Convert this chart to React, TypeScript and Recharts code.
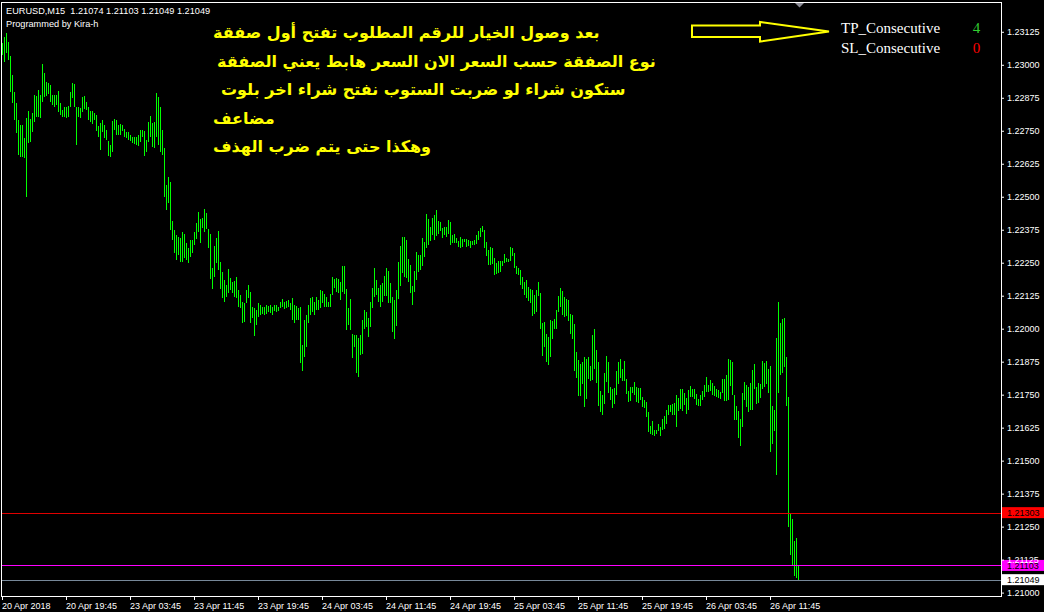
import { Bar, ComposedChart, ReferenceLine, XAxis, YAxis } from "recharts";

// M15 bars (high / low per bar, oldest first)
const highs = [
  1.23084, 1.23107, 1.23122, 1.23088, 1.23035, 1.22963, 1.22899, 1.22857, 1.22793, 1.22774,
  1.22774, 1.22724, 1.228, 1.22827, 1.22796, 1.22819, 1.22887, 1.22884, 1.22906, 1.22887,
  1.23005, 1.22971, 1.22937, 1.22933, 1.22925, 1.22887, 1.22887, 1.22887, 1.22903, 1.22857,
  1.2283, 1.22842, 1.22842, 1.22846, 1.22899, 1.22933, 1.22929, 1.22842, 1.22842, 1.22838,
  1.2288, 1.22884, 1.22861, 1.22842, 1.22827, 1.22827, 1.22819, 1.22812, 1.2277, 1.22781,
  1.22793, 1.22774, 1.22755, 1.22713, 1.22698, 1.22789, 1.22796, 1.22793, 1.22774, 1.22777,
  1.22774, 1.22759, 1.22747, 1.22747, 1.22736, 1.22728, 1.22728, 1.22728, 1.22736, 1.22755,
  1.22755, 1.22751, 1.22717, 1.22785, 1.22808, 1.22781, 1.22785, 1.22895, 1.2288, 1.22842,
  1.22755, 1.22687, 1.22546, 1.22577, 1.22558, 1.2241, 1.22376, 1.22357, 1.22349, 1.22345,
  1.22368, 1.22361, 1.22326, 1.22307, 1.22338, 1.22338, 1.22368, 1.22402, 1.22444, 1.22417,
  1.22421, 1.22455, 1.2244, 1.2238, 1.22361, 1.22232, 1.22315, 1.22345, 1.22372, 1.22254,
  1.22217, 1.22186, 1.22167, 1.22228, 1.22194, 1.22179, 1.22182, 1.22198, 1.22148, 1.22129,
  1.22103, 1.22099, 1.22148, 1.22167, 1.22141, 1.22084, 1.2208, 1.22073, 1.22099, 1.22091,
  1.22084, 1.22084, 1.22091, 1.22088, 1.22091, 1.22084, 1.22091, 1.22091, 1.22084, 1.22103,
  1.22114, 1.22103, 1.22107, 1.2211, 1.22099, 1.22118, 1.22091, 1.22088, 1.2208, 1.22084,
  1.2194, 1.22035, 1.22054, 1.22091, 1.22118, 1.22122, 1.22103, 1.22122, 1.2211, 1.22148,
  1.22145, 1.22133, 1.22122, 1.22103, 1.22133, 1.22198, 1.2219, 1.22194, 1.2219, 1.22179,
  1.22239, 1.22239, 1.22152, 1.2208, 1.22114, 1.21982, 1.21978, 1.21978, 1.21966, 1.21978,
  1.22035, 1.22073, 1.22065, 1.22042, 1.22103, 1.22156, 1.22232, 1.22186, 1.22156, 1.22167,
  1.22175, 1.22201, 1.22232, 1.2222, 1.22175, 1.22122, 1.2211, 1.22148, 1.22254, 1.22315,
  1.22349, 1.22349, 1.22338, 1.22266, 1.22243, 1.22163, 1.2222, 1.22292, 1.22281, 1.22281,
  1.22345, 1.2233, 1.22436, 1.22417, 1.22387, 1.22421, 1.22433, 1.22452, 1.2241, 1.22406,
  1.22383, 1.22387, 1.22387, 1.22414, 1.22406, 1.22357, 1.22361, 1.22345, 1.22334, 1.22349,
  1.22342, 1.22342, 1.22342, 1.22338, 1.22334, 1.22334, 1.22338, 1.22357, 1.22372, 1.22383,
  1.22391, 1.22376, 1.2233, 1.223, 1.22311, 1.22307, 1.2227, 1.22251, 1.22258, 1.22258,
  1.22258, 1.22285, 1.2227, 1.22266, 1.22311, 1.22307, 1.22289, 1.22239, 1.22232, 1.22224,
  1.22198, 1.22179, 1.22186, 1.2216, 1.22152, 1.22148, 1.22129, 1.22148, 1.22179, 1.22137,
  1.22023, 1.22027, 1.21982, 1.2197, 1.22035, 1.22031, 1.22038, 1.22073, 1.22126, 1.22156,
  1.22145, 1.22122, 1.22114, 1.2211, 1.22057, 1.22054, 1.22019, 1.21913, 1.21883, 1.21868,
  1.21875, 1.21894, 1.21887, 1.21894, 1.2186, 1.21978, 1.22, 1.21921, 1.21875, 1.21766,
  1.2175, 1.21834, 1.21898, 1.21875, 1.21781, 1.21773, 1.21777, 1.21841, 1.21875, 1.21887,
  1.21849, 1.21879, 1.21811, 1.21766, 1.21781, 1.21781, 1.218, 1.21781, 1.21777, 1.21777,
  1.21743, 1.21731, 1.21724, 1.21686, 1.21633, 1.21652, 1.21618, 1.21618, 1.21641, 1.21629,
  1.21659, 1.21671, 1.21694, 1.21712, 1.21712, 1.21716, 1.2172, 1.2175, 1.21739, 1.21773,
  1.21773, 1.21758, 1.21739, 1.21769, 1.21785, 1.21773, 1.21773, 1.21754, 1.21735, 1.2175,
  1.21766, 1.21788, 1.21819, 1.21788, 1.21807, 1.21796, 1.21785, 1.21773, 1.21769, 1.21762,
  1.21811, 1.21811, 1.21826, 1.21887, 1.21883, 1.21875, 1.2175, 1.21709, 1.2169, 1.21659,
  1.21758, 1.218, 1.21788, 1.21781, 1.21796, 1.21845, 1.21868, 1.21781, 1.21796, 1.21792,
  1.21879, 1.21872, 1.21879, 1.21849, 1.2186, 1.21709, 1.21694, 1.21966, 1.22103, 1.22023,
  1.22038, 1.22042, 1.21894, 1.21743, 1.21299, 1.2128, 1.21197, 1.21208, 1.21103,
];

const lows = [
  1.23039, 1.23012, 1.23047, 1.2302, 1.22899, 1.22857, 1.22793, 1.22743, 1.2266, 1.22652,
  1.22652, 1.22649, 1.22501, 1.22705, 1.22709, 1.22747, 1.22785, 1.22804, 1.22804, 1.228,
  1.22861, 1.2288, 1.22884, 1.22891, 1.22861, 1.22849, 1.22842, 1.22849, 1.22823, 1.22812,
  1.22804, 1.22804, 1.228, 1.22804, 1.22842, 1.22876, 1.22842, 1.22698, 1.22804, 1.228,
  1.22823, 1.22834, 1.2283, 1.22793, 1.22785, 1.22777, 1.22793, 1.22751, 1.22728, 1.22679,
  1.22747, 1.22724, 1.22717, 1.22656, 1.22652, 1.22671, 1.22755, 1.22736, 1.22736, 1.22736,
  1.22751, 1.22728, 1.22724, 1.22717, 1.22713, 1.22705, 1.22702, 1.22698, 1.22694, 1.22709,
  1.22728, 1.22656, 1.22671, 1.22709, 1.22728, 1.2269, 1.22687, 1.22728, 1.22698, 1.22671,
  1.2266, 1.22501, 1.22452, 1.22478, 1.22376, 1.22338, 1.22289, 1.22262, 1.22281, 1.22254,
  1.22254, 1.2227, 1.22262, 1.22251, 1.22273, 1.22289, 1.22319, 1.22342, 1.22368, 1.22326,
  1.22383, 1.22368, 1.2238, 1.22307, 1.2219, 1.22152, 1.22198, 1.22251, 1.22224, 1.22152,
  1.22118, 1.22103, 1.22122, 1.22137, 1.22148, 1.22137, 1.22122, 1.22118, 1.22084, 1.2208,
  1.22023, 1.22027, 1.22099, 1.22118, 1.22023, 1.22042, 1.21974, 1.22016, 1.22046, 1.22054,
  1.22057, 1.22054, 1.22057, 1.22065, 1.22061, 1.22054, 1.22069, 1.22065, 1.22069, 1.2208,
  1.22084, 1.22076, 1.2208, 1.22084, 1.22073, 1.22035, 1.22023, 1.22035, 1.22035, 1.21872,
  1.21841, 1.21894, 1.21932, 1.22023, 1.22054, 1.22065, 1.22054, 1.22073, 1.22073, 1.2208,
  1.22099, 1.22084, 1.22084, 1.22084, 1.22084, 1.22129, 1.22156, 1.22141, 1.22137, 1.2211,
  1.22141, 1.22133, 1.21997, 1.22016, 1.21997, 1.21891, 1.21932, 1.21834, 1.21819, 1.21902,
  1.21906, 1.22, 1.22008, 1.2197, 1.22008, 1.2208, 1.22122, 1.22129, 1.22103, 1.22084,
  1.22103, 1.22126, 1.22126, 1.22099, 1.22099, 1.21989, 1.21963, 1.22012, 1.22114, 1.22163,
  1.22213, 1.22198, 1.22194, 1.22179, 1.22137, 1.22091, 1.22141, 1.22186, 1.22217, 1.22224,
  1.22239, 1.22273, 1.22307, 1.22319, 1.22334, 1.22357, 1.22338, 1.22353, 1.22361, 1.22372,
  1.22345, 1.22357, 1.22349, 1.22361, 1.22319, 1.22326, 1.22326, 1.22326, 1.22311, 1.22307,
  1.22311, 1.2233, 1.22311, 1.22315, 1.22307, 1.22319, 1.22319, 1.22323, 1.22338, 1.22349,
  1.22368, 1.22307, 1.22277, 1.22243, 1.22243, 1.22247, 1.22205, 1.22209, 1.22213, 1.22217,
  1.22239, 1.22251, 1.22254, 1.22254, 1.22258, 1.22277, 1.22232, 1.22209, 1.22205, 1.22167,
  1.22152, 1.22129, 1.22118, 1.22107, 1.22099, 1.2205, 1.22057, 1.22065, 1.22126, 1.22,
  1.21898, 1.21932, 1.21875, 1.21864, 1.21894, 1.21963, 1.22, 1.22, 1.22065, 1.22084,
  1.22054, 1.22046, 1.2205, 1.22031, 1.21982, 1.21963, 1.21841, 1.21815, 1.21747, 1.21747,
  1.21792, 1.21705, 1.21735, 1.21811, 1.21803, 1.21807, 1.21849, 1.21796, 1.21709, 1.21686,
  1.21675, 1.21716, 1.218, 1.21758, 1.21731, 1.21701, 1.21716, 1.2175, 1.21792, 1.21815,
  1.21803, 1.21803, 1.21754, 1.21724, 1.21728, 1.21758, 1.2175, 1.21724, 1.2172, 1.21731,
  1.21705, 1.21701, 1.21667, 1.2161, 1.21602, 1.21599, 1.21595, 1.21602, 1.21614, 1.21595,
  1.21618, 1.21622, 1.21641, 1.21675, 1.21686, 1.21675, 1.21675, 1.21629, 1.2169, 1.21697,
  1.2169, 1.21712, 1.21678, 1.21694, 1.21743, 1.21743, 1.21735, 1.21712, 1.21709, 1.21709,
  1.21731, 1.21743, 1.21762, 1.21762, 1.21766, 1.2175, 1.21747, 1.21743, 1.21739, 1.21735,
  1.21758, 1.21728, 1.21728, 1.21731, 1.21785, 1.2175, 1.21656, 1.21656, 1.21587, 1.21557,
  1.21629, 1.21731, 1.21705, 1.21686, 1.21694, 1.21694, 1.21773, 1.21716, 1.2172, 1.21739,
  1.21773, 1.21781, 1.21792, 1.21758, 1.21534, 1.21565, 1.21614, 1.21447, 1.21758, 1.21826,
  1.21834, 1.21856, 1.21709, 1.2125, 1.21144, 1.21106, 1.21064, 1.21057, 1.21049,
];

const timeTickIndex = [0, 32, 64, 96, 128, 160, 192, 224, 256, 288, 320, 352, 384];
const timeTickLabels = [
  "20 Apr 2018", "20 Apr 19:45", "23 Apr 03:45", "23 Apr 11:45", "23 Apr 19:45",
  "24 Apr 03:45", "24 Apr 11:45", "24 Apr 19:45", "25 Apr 03:45", "25 Apr 11:45",
  "25 Apr 19:45", "26 Apr 03:45", "26 Apr 11:45",
];

const priceTicks = [
  1.21, 1.21125, 1.2125, 1.21375, 1.215, 1.21625, 1.2175, 1.21875, 1.22,
  1.22125, 1.2225, 1.22375, 1.225, 1.22625, 1.2275, 1.22875, 1.23, 1.23125,
];

const symbolName = "EURUSD,M15";
const lastOhlc = [1.21074, 1.21103, 1.21049, 1.21049];
const levelPrices = [1.21303, 1.21103, 1.21049];
const levelColors = ["#e00000", "#ff00ff", "#778899"];
const levelTagColors = ["#ff0000", "#ff00ff", "#ffffff"];
const counterNames = ["TP_Consecutive", "SL_Consecutive"];
const counterValues = [4, 0];
const noteLines = [
  "بعد وصول الخيار للرقم المطلوب تفتح أول صفقة",
  "نوع الصفقة حسب السعر الان السعر هابط يعني الصفقة",
  "ستكون شراء لو ضربت الستوب نفتح شراء اخر بلوت",
  "مضاعف",
  "وهكذا حتى يتم ضرب الهذف",
];
const noteX = [213, 217, 221, 213, 213];

const data = highs.map((h, i) => ({ i, range: [lows[i], h] }));

const FONT = "'Liberation Sans', Arial, sans-serif";
const PLOT_BOTTOM = 596;

function TimeTick(props: any) {
  const { x, payload } = props;
  const label = timeTickLabels[timeTickIndex.indexOf(payload.value)];
  const px = Math.floor(x) + 0.5;
  return (
    <g>
      <line x1={px} x2={px} y1={PLOT_BOTTOM} y2={PLOT_BOTTOM + 4} stroke="#fff" />
      <text x={px - 0.5} y={609} fill="#fff" fontSize={9} fontFamily={FONT}>
        {label}
      </text>
    </g>
  );
}

function LevelTag(props: any) {
  const { viewBox, text, fill } = props;
  if (!viewBox) return null;
  const right = viewBox.x + viewBox.width;
  return (
    <g>
      <rect x={right + 1} y={viewBox.y - 6} width={42} height={11} fill={fill} />
      <text x={right + 6} y={viewBox.y + 3} fill="#000" fontSize={9} fontFamily={FONT}>
        {text}
      </text>
    </g>
  );
}

function BarLine(props: any) {
  const { x, y, width, height } = props;
  return (
    <rect
      x={x}
      y={y}
      width={width}
      height={Math.max(Math.abs(height), 1)}
      fill="#00ff00"
      shapeRendering="crispEdges"
    />
  );
}

export default function App() {
  return (
    <div style={{ position: "fixed", left: 0, top: 0, width: 1044, height: 612, background: "#000" }}>
      <ComposedChart
        width={1044}
        height={612}
        data={data}
        margin={{ top: 3, right: 0, bottom: 0, left: 2 }}
      >
        <XAxis
          type="number"
          dataKey="i"
          domain={[-0.25, 499.25]}
          ticks={timeTickIndex}
          interval={0}
          height={16}
          axisLine={false}
          tickLine={false}
          tick={<TimeTick />}
        />
        <YAxis
          orientation="right"
          domain={[1.20989, 1.23236]}
          ticks={priceTicks}
          interval={0}
          width={43}
          axisLine={false}
          tickSize={3}
          tickMargin={3}
          tickLine={{ stroke: "#fff" }}
          tick={{ fill: "#fff", fontSize: 9, fontFamily: FONT }}
          tickFormatter={(v: number) => v.toFixed(5)}
        />
        <Bar dataKey="range" barSize={1} shape={<BarLine />} isAnimationActive={false} />
        {levelPrices.map((p, k) => (
          <ReferenceLine
            key={p}
            y={p}
            stroke={levelColors[k]}
            shapeRendering="crispEdges"
            label={<LevelTag text={p.toFixed(5)} fill={levelTagColors[k]} />}
          />
        ))}
      </ComposedChart>
      <svg
        width={1044}
        height={612}
        style={{ position: "absolute", left: 0, top: 0, pointerEvents: "none" }}
      >
        <rect x={1.5} y={2.5} width={1000} height={594} fill="none" stroke="#fff" />
        <polygon points="795,3 804,3 799.5,7.5" fill="#8c8c96" />
        <text x={6} y={14} fill="#fff" fontSize={9.2} fontFamily={FONT} style={{ whiteSpace: "pre" }}>
          {symbolName + "  " + lastOhlc.map((v) => v.toFixed(5)).join(" ")}
        </text>
        <text x={6} y={27} fill="#fff" fontSize={9.2} fontFamily={FONT}>
          Programmed by Kira-h
        </text>
        <polygon
          points="692,25.5 760,25.5 760,22 829,31.5 760,41.5 760,37 692,37"
          fill="none"
          stroke="#ffff00"
          strokeWidth={2}
        />
        {counterNames.map((n, k) => (
          <g key={n}>
            <text x={841} y={33 + k * 20} fill="#fff" fontSize={15} fontFamily="'Liberation Serif', serif">
              {n}
            </text>
            <text
              x={976.5}
              y={33 + k * 20}
              fill={k === 0 ? "#32cd32" : "#ff0000"}
              fontSize={15}
              textAnchor="middle"
              fontFamily="'Liberation Serif', serif"
            >
              {counterValues[k]}
            </text>
          </g>
        ))}
        {noteLines.map((line, k) => (
          <text
            key={k}
            x={noteX[k]}
            y={38 + k * 28.6}
            fill="#ffff00"
            fontSize={16}
            fontWeight="bold"
            fontFamily="'DejaVu Sans', sans-serif"
          >
            {line}
          </text>
        ))}
      </svg>
    </div>
  );
}
